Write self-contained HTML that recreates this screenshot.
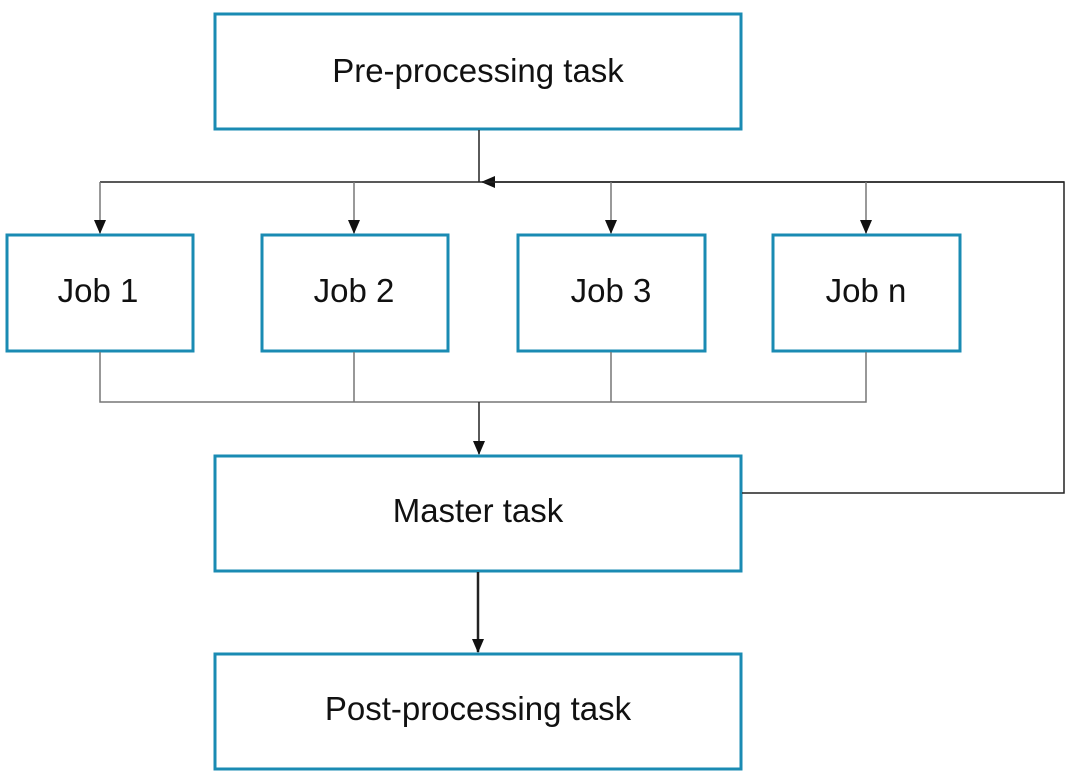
<!DOCTYPE html>
<html><head><style>
html,body{margin:0;padding:0;background:#fff;width:1069px;height:780px;overflow:hidden}
</style></head><body>
<svg width="1069" height="780" xmlns="http://www.w3.org/2000/svg" font-family="Liberation Sans, Arial, sans-serif">
<defs>
<marker id="a" markerWidth="14" markerHeight="14" refX="13" refY="7" orient="auto" markerUnits="userSpaceOnUse">
<path d="M0,1 L14,7 L0,13 z" fill="#111"/></marker>
</defs>
<g fill="#fff" stroke="#1a8bb3" stroke-width="3">
<rect x="215" y="14" width="526" height="115"/>
<rect x="7" y="235" width="186" height="116"/>
<rect x="262" y="235" width="186" height="116"/>
<rect x="518" y="235" width="187" height="116"/>
<rect x="773" y="235" width="187" height="116"/>
<rect x="215" y="456" width="526" height="115"/>
<rect x="215" y="654" width="526" height="115"/>
</g>
<g stroke="#222" stroke-width="1.5" fill="none">
<line x1="479" y1="130" x2="479" y2="182"/>
<path d="M742,493 H1064 V182 H482" marker-end="url(#a)"/>
<line x1="100" y1="182" x2="1064" y2="182"/>
</g>
<g stroke="#777" stroke-width="1.5" fill="none">
<line x1="100" y1="182" x2="100" y2="233" marker-end="url(#a)"/>
<line x1="354" y1="182" x2="354" y2="233" marker-end="url(#a)"/>
<line x1="611" y1="182" x2="611" y2="233" marker-end="url(#a)"/>
<line x1="866" y1="182" x2="866" y2="233" marker-end="url(#a)"/>
<path d="M100,352 V402 H866 V352 M354,352 V402 M611,352 V402"/>
</g>
<g stroke="#222" fill="none">
<line x1="479" y1="402" x2="479" y2="454" stroke-width="1.5" marker-end="url(#a)"/>
<line x1="478" y1="572" x2="478" y2="652" stroke-width="2.5" marker-end="url(#a)"/>
</g>
<g font-size="33" fill="#111" text-anchor="middle">
<text x="478" y="82">Pre-processing task</text>
<text x="98" y="302">Job 1</text>
<text x="354" y="302">Job 2</text>
<text x="611" y="302">Job 3</text>
<text x="866" y="302">Job n</text>
<text x="478" y="522">Master task</text>
<text x="478" y="720">Post-processing task</text>
</g>
</svg>
</body></html>
